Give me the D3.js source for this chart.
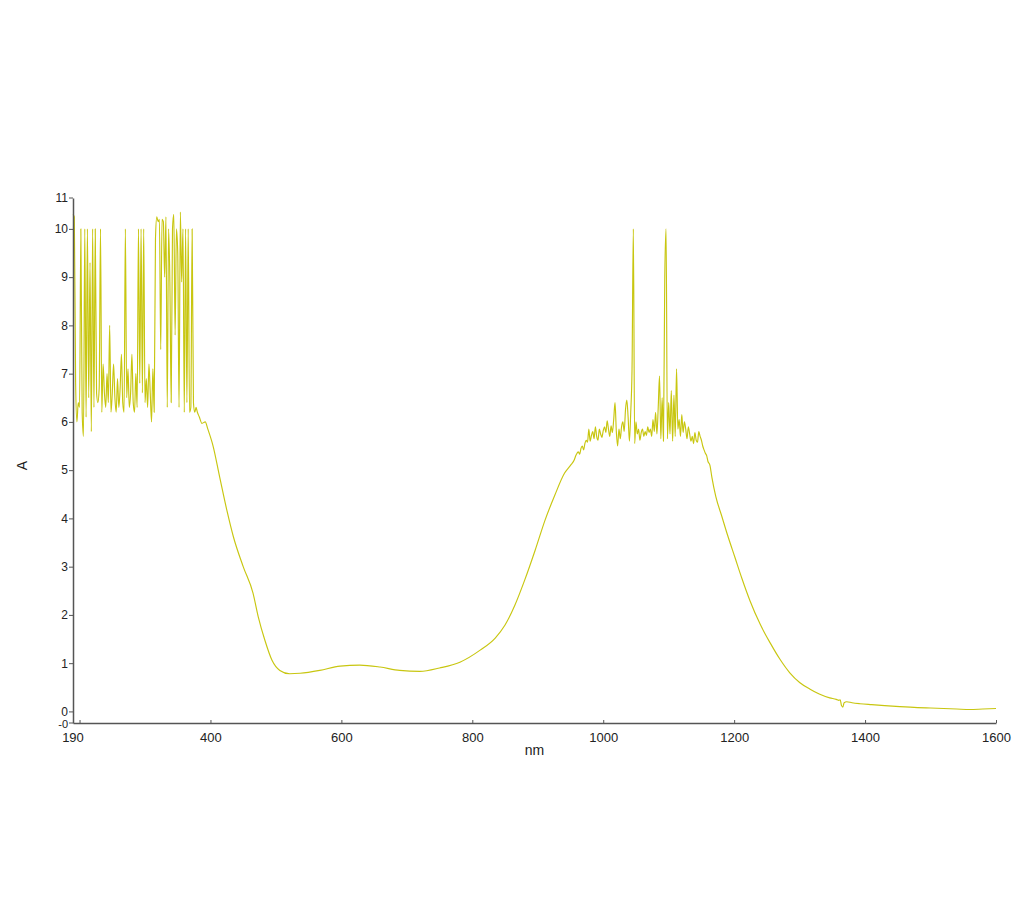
<!DOCTYPE html>
<html>
<head>
<meta charset="utf-8">
<script src="https://cdn.jsdelivr.net/npm/d3@7"></script>
<style>
  html, body { margin: 0; padding: 0; background: #ffffff; }
  svg { display: block; }
</style>
</head>
<body>
<svg id="chart" width="1030" height="899"></svg>
<script>
// ---- Data ----
const uvWavelength = [190,192,194,196,198,200,202,204,206,208,210,212,214,216,218,220,222,224,226,228,230,232,234,236,238,240,242,244,246,248,250,252,254,256,258,260,262,264,266,268,270,272,274,276,278,280,282,284,286,288,290,292,294,296,298,300,302,304,306,308,310,312,314,316,318,320,322,324,326,328,330,332,334,336,338,340,342,344,346,348,350,352,354,356,358,360,362,364,366,368,370,372,374,376,378,380];
const uvAbsorbance = [10.3,10.25,6.8,6.0,6.4,6.3,10.0,6.2,5.7,10.0,6.1,10.0,6.5,9.3,5.8,10.0,6.3,10.0,6.6,6.4,6.7,10.0,6.2,7.2,6.6,6.3,7.0,6.4,8.0,6.2,6.6,7.2,6.5,6.2,6.9,6.3,6.7,7.4,6.4,6.2,10.0,6.5,7.1,6.3,6.6,7.4,6.4,6.2,7.0,6.3,10.0,6.8,10.0,6.6,10.0,6.4,6.9,6.3,7.2,6.6,6.0,7.1,6.2,9.8,10.25,10.15,10.2,7.5,10.2,10.15,9.0,10.25,6.3,10.0,8.9,6.4,10.0,10.3,7.8,10.0,9.5,6.3,10.35,8.9,10.0,6.2,10.0,6.4,10.0,6.2,6.3,10.0,6.4,6.2,6.3,6.2];

const visWavelength = [383,387,392,396,404,414,425,435,450,465,473,483,494,506,521,537,567,598,628,659,689,720,750,781,812,835,850,865,880,896,911,926,941,950];
const visAbsorbance = [6.1,5.97,6.0,5.85,5.5,4.86,4.17,3.62,3.0,2.45,1.96,1.48,1.06,0.85,0.78,0.79,0.85,0.94,0.96,0.92,0.85,0.83,0.9,1.02,1.27,1.52,1.79,2.2,2.72,3.34,3.96,4.48,4.94,5.1];

const nirWavelength = [956,958,960,962,964,966,968,970,972,974,976,978,980,982,984,986,988,990,992,994,996,998,1000,1002,1004,1006,1008,1010,1012,1014,1016,1018,1020,1022,1024,1026,1028,1030,1032,1034,1036,1038,1040,1042,1044,1046,1048,1050,1052,1054,1056,1058,1060,1062,1064,1066,1068,1070,1072,1074,1076,1078,1080,1082,1084,1086,1088,1090,1092,1094,1096,1098,1100,1102,1104,1106,1108,1110,1112,1114,1116,1118,1120,1122,1124,1126,1128,1130,1132,1134,1136,1138,1140,1142,1144,1146,1148,1150,1152,1154,1156,1158,1160];
const nirAbsorbance = [5.22,5.30,5.35,5.38,5.33,5.45,5.50,5.42,5.55,5.62,5.58,5.85,5.60,5.72,5.80,5.65,5.90,5.70,5.62,5.85,5.75,5.68,5.82,5.90,5.78,6.02,5.85,5.70,5.92,5.78,6.05,6.40,5.80,5.50,5.85,5.65,5.90,6.00,5.80,6.25,6.45,6.10,5.60,6.20,7.10,10.0,5.55,6.00,5.75,5.85,5.62,5.78,5.85,5.70,5.80,5.72,5.90,5.78,5.85,5.70,6.05,5.80,6.20,5.75,6.30,6.95,5.65,6.50,5.60,9.0,10.0,5.65,6.40,5.75,6.65,5.60,6.55,5.70,7.10,5.85,6.05,5.70,6.15,5.78,6.00,5.85,5.65,5.90,5.75,5.60,5.70,5.55,5.78,5.62,5.58,5.80,5.70,5.62,5.50,5.42,5.35,5.30,5.18];

const tailWavelength = [1163,1166,1172,1181,1190,1201,1212,1224,1240,1255,1270,1285,1300,1316,1330,1346,1356,1360,1362,1364,1366,1368,1372,1380,1392,1410,1430,1453,1480,1500,1520,1540,1560,1580,1600];
const tailAbsorbance = [5.1,4.85,4.45,4.05,3.65,3.2,2.75,2.3,1.8,1.42,1.08,0.8,0.6,0.46,0.36,0.28,0.25,0.23,0.24,0.12,0.09,0.18,0.2,0.18,0.16,0.14,0.12,0.1,0.08,0.07,0.06,0.05,0.04,0.05,0.06];

const xTicks = [200,400,600,800,1000,1200,1400,1600];
const xTickLabels = ["","400","600","800","1000","1200","1400","1600"];
const yTicks = [0,1,2,3,4,5,6,7,8,9,10];
const xDomain = [190, 1600];
const yDomain = [-0.24, 10.64];
const xTitle = "nm";
const yTitle = "A";

// ---- Build ----
(function () {
  const wl = [].concat(uvWavelength, visWavelength, nirWavelength, tailWavelength);
  const ab = [].concat(uvAbsorbance, visAbsorbance, nirAbsorbance, tailAbsorbance);
  const points = wl.map((w, i) => ({x: w, y: ab[i]}));

  const svg = d3.select("#chart");
  const mLeft = 73, mRight = 996, mTop = 198, mBottom = 723;
  const x = d3.scaleLinear().domain(xDomain).range([mLeft, mRight]);
  const y = d3.scaleLinear().domain(yDomain).range([mBottom, mTop]);

  const font = "'Liberation Sans', Arial, sans-serif";
  const axisColor = "#555555";

  // Line
  svg.append("path")
    .datum(points)
    .attr("fill", "none")
    .attr("stroke", "#c8c610")
    .attr("stroke-width", 1.15)
    .attr("stroke-linejoin", "round")
    .attr("d", d3.line().curve(d3.curveMonotoneX).x(d => x(d.x)).y(d => y(d.y)));

  // X axis
  const xAxis = d3.axisBottom(x)
    .tickValues(xTicks)
    .tickFormat((d, i) => xTickLabels[i])
    .tickSizeInner(-3)
    .tickSizeOuter(0)
    .tickPadding(10);
  const gx = svg.append("g").attr("transform", `translate(0,${mBottom})`).call(xAxis);
  gx.select(".domain").attr("stroke", axisColor).attr("stroke-width", 1.5);
  gx.selectAll(".tick line").attr("stroke", axisColor);
  gx.selectAll("text").attr("font-family", font).attr("font-size", 13).attr("fill", "#222");
  gx.append("text")
    .attr("x", x(xDomain[0])).attr("y", 10).attr("dy", "0.71em")
    .attr("text-anchor", "middle")
    .attr("font-family", font).attr("font-size", 13).attr("fill", "#222")
    .text(d3.format("d")(xDomain[0]));

  // Y axis
  const yAxis = d3.axisLeft(y)
    .tickValues(yTicks)
    .tickFormat(d3.format("d"))
    .tickSizeInner(4)
    .tickSizeOuter(0)
    .tickPadding(1);
  const gy = svg.append("g").attr("transform", `translate(${mLeft},0)`).call(yAxis);
  gy.select(".domain").attr("stroke", axisColor).attr("stroke-width", 1.5);
  gy.selectAll(".tick line").attr("stroke", axisColor);
  gy.selectAll("text").attr("font-family", font).attr("font-size", 12).attr("fill", "#222");
  [[yDomain[1], "11", 12, 4.2], [yDomain[0], "-0", 11, 4.5]].forEach(([v, t, fs, base]) => {
    gy.append("line").attr("x1", -4).attr("x2", 0).attr("y1", y(v)).attr("y2", y(v)).attr("stroke", axisColor);
    gy.append("text")
      .attr("x", -5).attr("y", y(v) + base)
      .attr("text-anchor", "end")
      .attr("font-family", font).attr("font-size", fs).attr("fill", "#222")
      .text(t);
  });

  // Titles
  svg.append("text")
    .attr("x", (mLeft + mRight) / 2).attr("y", 755)
    .attr("text-anchor", "middle")
    .attr("font-family", font).attr("font-size", 14).attr("fill", "#222")
    .text(xTitle);
  svg.append("text")
    .attr("transform", `translate(27,${(mTop + mBottom) / 2 + 5}) rotate(-90)`)
    .attr("text-anchor", "middle")
    .attr("font-family", font).attr("font-size", 14).attr("fill", "#222")
    .text(yTitle);
})();
</script>
</body>
</html>
